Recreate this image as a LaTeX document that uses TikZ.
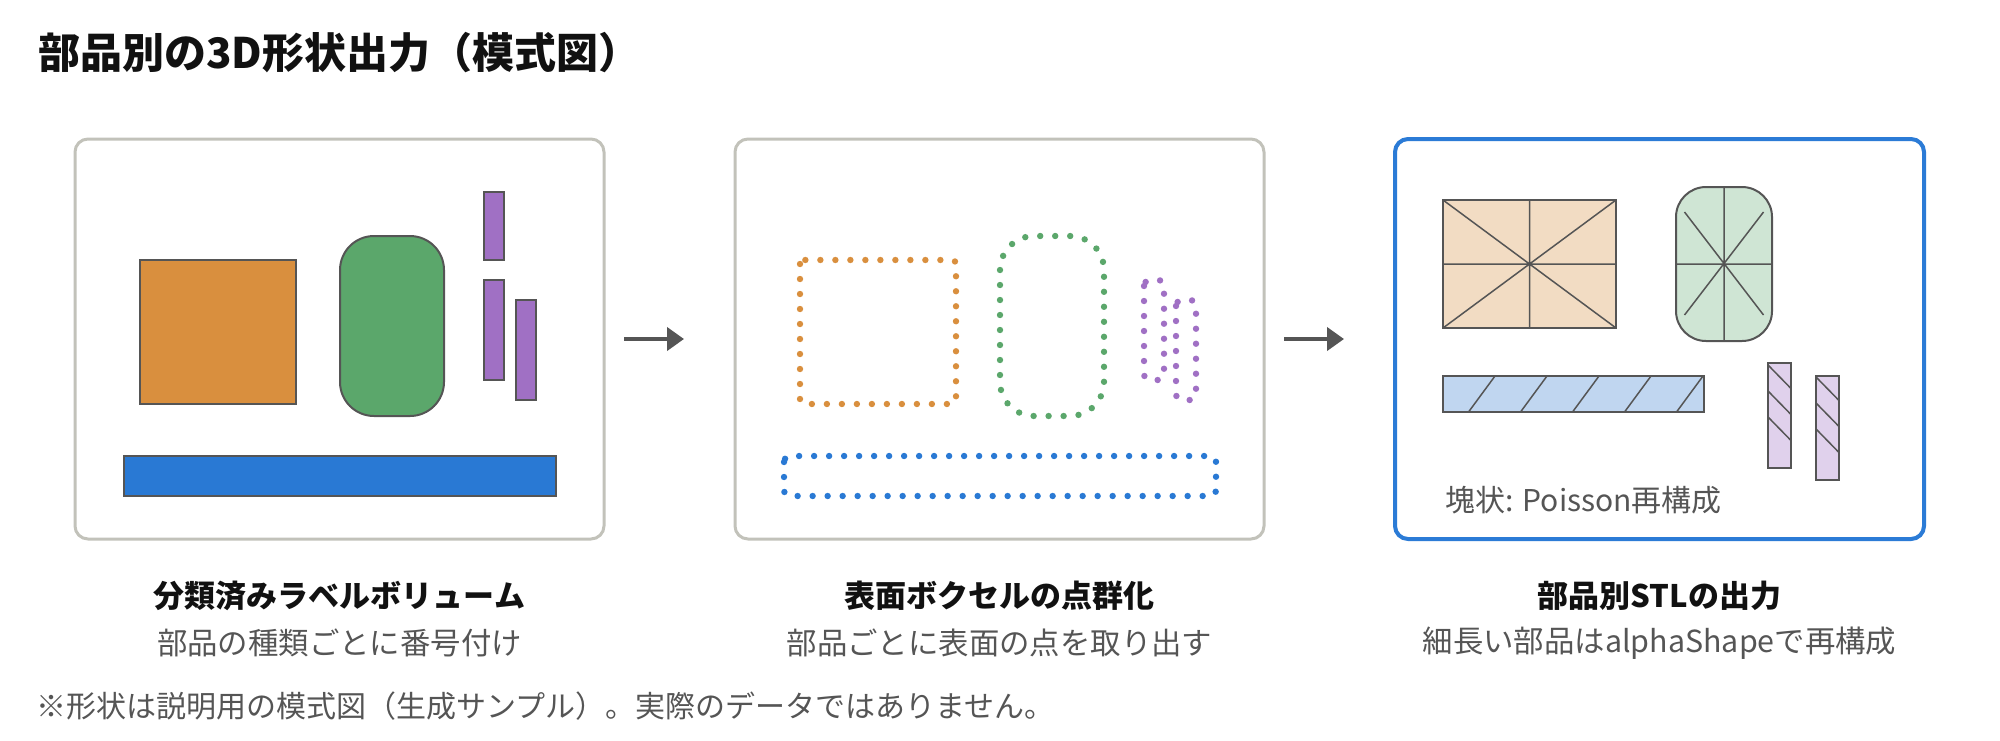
\documentclass[tikz,border=0pt]{standalone}
\usepackage{fontspec}
\setmainfont{Noto Sans CJK JP}
\usetikzlibrary{arrows.meta}
\definecolor{framegray}{HTML}{C2C2BA}
\definecolor{frameblue}{HTML}{2B7BD6}
\definecolor{ink}{HTML}{555555}
\definecolor{headblack}{HTML}{111111}
\definecolor{partorange}{HTML}{D98F3E}
\definecolor{partgreen}{HTML}{5BA76B}
\definecolor{partpurple}{HTML}{A070C4}
\definecolor{partblue}{HTML}{2979D4}
\definecolor{meshorange}{HTML}{F2DCC3}
\definecolor{meshgreen}{HTML}{CFE5D4}
\definecolor{meshblue}{HTML}{C0D6F0}
\definecolor{meshpurple}{HTML}{E0D1EC}
\tikzset{>={Triangle[length=8.5pt,width=11.5pt]}}
\tikzset{
  panel/.style={draw=framegray, line width=1.5pt, rounded corners=6.5pt,
    minimum width=264.5pt, minimum height=200pt, inner sep=0pt, outer sep=0pt},
  part/.style={draw=ink, line width=1pt},
  pts/.style={line width=3.2pt, line cap=round, dash pattern=on 0pt off 7.5pt},
  mesh/.style={draw=ink, line width=0.75pt},
  flow/.style={->, draw=ink, line width=2pt, shorten <=10pt, shorten >=25.5pt},
  caption/.style={font=\fontsize{15.5}{18}\selectfont\bfseries, text=headblack},
  note/.style={font=\fontsize{15.2}{18}\selectfont, text=ink},
}

\begin{document}
\begin{tikzpicture}[x=0.5pt,y=-0.5pt]
\useasboundingbox (0,0) rectangle (2000,740);
%title
\node[anchor=west, inner sep=0pt, font=\fontsize{21}{25}\selectfont\bfseries, text=headblack]
  (title) at (38,53) {部品別の3D形状出力（模式図）};
%panels
\node[panel] (p1) at (339.5,339) {};
\node[panel] (p2) at (999.5,339) {};
\node[panel, draw=frameblue, line width=2pt] (p3) at (1659.5,339) {};
%arrows
\draw[flow] (p1) -- (p2);
\draw[flow] (p2) -- (p3);
%labelled volume
\begin{scope}[shift={(p1.north west)}]
    \draw[part, fill=partorange] (65,121) rectangle (221,265);
    \draw[part, fill=partgreen, rounded corners=17pt] (265,97) rectangle (369,277);
    \draw[part, fill=partpurple] (409,53) rectangle (429,121);
    \draw[part, fill=partpurple] (409,141) rectangle (429,241);
    \draw[part, fill=partpurple] (441,161) rectangle (461,261);
    \draw[part, fill=partblue] (49,317) rectangle (481,357);
\end{scope}
%surface points
\begin{scope}[shift={(p2.north west)}]
    \draw[pts, draw=partorange, rounded corners=2pt] (65,121) rectangle (221,265);
    \draw[pts, draw=partgreen, rounded corners=17pt] (265,97) rectangle (369,277);
    \draw[pts, draw=partpurple, rounded corners=3pt] (409,141) rectangle (429,241);
    \draw[pts, draw=partpurple, rounded corners=3pt] (441,161) rectangle (461,261);
    \draw[pts, draw=partblue, rounded corners=3pt] (49,317) rectangle (481,357);
\end{scope}
%meshes
\begin{scope}[shift={(p3.north west)}]
    \draw[part, fill=meshorange] (48,61) rectangle (221,189);
    \draw[mesh] (48,61) -- (221,189) (221,61) -- (48,189)
                (134.5,61) -- (134.5,189) (48,125) -- (221,125);
    \draw[part, fill=meshgreen, rounded corners=15pt] (281,48) rectangle (377,202);
    \draw[mesh] (329,48) -- (329,202) (281,125) -- (377,125)
                (289.5,73) -- (368.5,176) (368.5,73) -- (289.5,176);
    \draw[part, fill=meshblue] (48,237) rectangle (309,273);
    \foreach \i in {0,...,4}
        \draw[mesh] (73.5+52*\i,273) -- (100+52*\i,237);
    \draw[part, fill=meshpurple] (373,224) rectangle (395.5,329);
    \foreach \y in {226,252,278}
        \draw[mesh] (373,\y) -- (395.5,\y+23);
    \draw[part, fill=meshpurple] (421,237) rectangle (443.5,341);
    \foreach \y in {238,264,290}
        \draw[mesh] (421,\y) -- (443.5,\y+23);
    \node[anchor=west, inner sep=0pt, font=\fontsize{15}{17}\selectfont, text=ink]
      (lump) at (50,361) {塊状: Poisson再構成};
\end{scope}
%captions
\node[caption] (c1) at (339.5,596) {分類済みラベルボリューム};
\node[note] (n1) at (339.5,643) {部品の種類ごとに番号付け};
\node[caption] (c2) at (999.5,596) {表面ボクセルの点群化};
\node[note] (n2) at (999.5,643) {部品ごとに表面の点を取り出す};
\node[caption] (c3) at (1659.5,596) {部品別STLの出力};
\node[note] (n3) at (1659.5,643) {細長い部品はalphaShapeで再構成};
%footnote
\node[anchor=west, inner sep=0pt, font=\fontsize{15}{17}\selectfont, text=ink]
  (foot) at (36,706) {※形状は説明用の模式図（生成サンプル）。実際のデータではありません。};
\end{tikzpicture}
\end{document}
